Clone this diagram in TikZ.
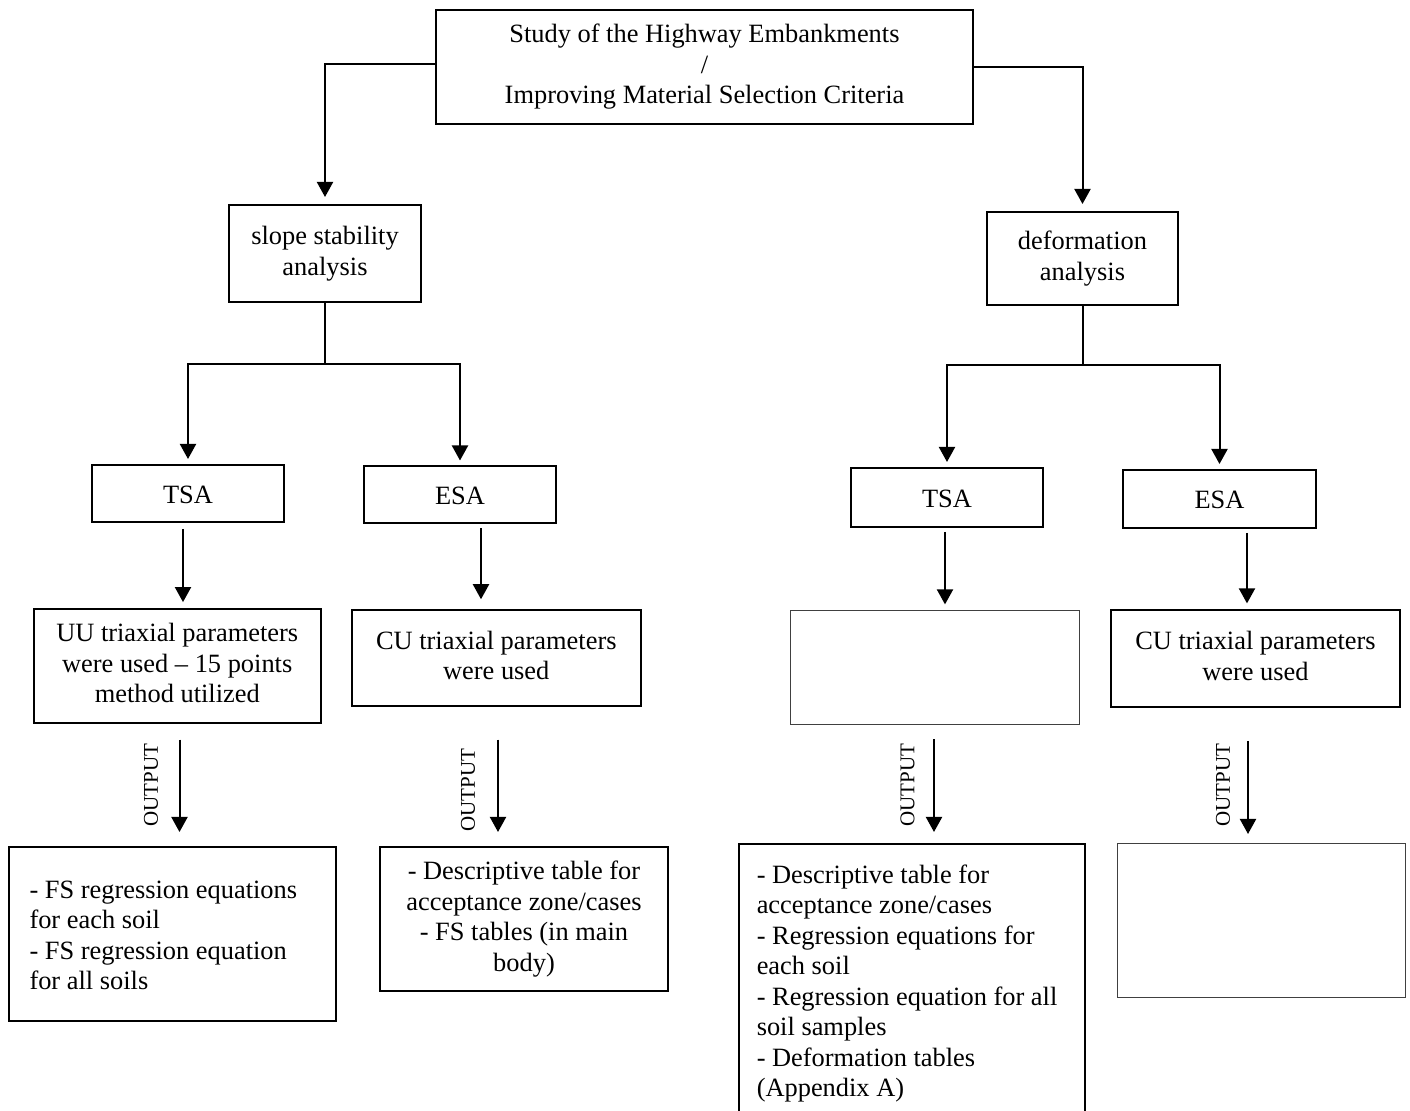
\documentclass[tikz,border=0pt]{standalone}
\usepackage{fontspec}
\setmainfont{Liberation Serif}
\usetikzlibrary{arrows.meta}
\newcommand\topstrut{\rule{0pt}{12.75pt}}
\newcommand\botstrut{\rule[-2.85pt]{0pt}{0pt}}
\begin{document}
\begin{tikzpicture}[x=0.5pt, y=-0.5pt,
  every node/.style={align=center, font=\fontsize{13.2}{15.25}\selectfont,
    execute at begin node=\topstrut, execute at end node=\botstrut},
  box/.style={draw, line width=1pt, inner sep=0pt},
  thinbox/.style={draw=black!75, line width=0.5pt, inner sep=0pt},
  listbox/.style={box, align=flush left},
  arr/.style={line width=1pt, -{Triangle[length=7.5pt, width=8pt]}},
  outlbl/.style={rotate=90, inner sep=0pt, font=\fontsize{10.5}{12}\selectfont,
    execute at begin node={}, execute at end node={}}]
\useasboundingbox (0,0) rectangle (1410,1111);
\fill[white] (0,0) rectangle (1410,1111);

\node[box, minimum width=268.5pt, minimum height=57pt] at (704.5,67) (study) {Study of the Highway Embankments\\/\\Improving Material Selection Criteria};

\node[box, minimum width=96pt, minimum height=48.5pt] at (325,253.5) (slope) {slope stability\\analysis};
\node[box, minimum width=95.5pt, minimum height=46.5pt] at (1082.5,258.5) (deform) {deformation\\analysis};

\node[box, minimum width=96pt, minimum height=28.5pt] at (188,493.5) (tsaS) {TSA};
\node[box, minimum width=96pt, minimum height=28.5pt] at (460,495) (esaS) {ESA};
\node[box, minimum width=96pt, minimum height=29.5pt] at (947,497.5) (tsaD) {TSA};
\node[box, minimum width=96.5pt, minimum height=29pt] at (1219.5,499) (esaD) {ESA};

\node[box, minimum width=143.75pt, minimum height=57pt] at (177.25,665.7) (uuS) {UU triaxial parameters\\were used -- 15 points\\method utilized};
\node[box, minimum width=144.3pt, minimum height=47.75pt] at (496.3,658) (cuS) {CU triaxial parameters\\were used};
\node[thinbox, minimum width=144.5pt, minimum height=57.25pt] at (935,667.75) (uuD) {};
\node[box, minimum width=144.5pt, minimum height=48.5pt] at (1255.5,658.5) (cuD) {CU triaxial parameters\\were used};

\node[listbox, text width=143pt, minimum width=163.5pt, minimum height=87pt] at (172.5,934) (resTS) {- FS regression equations\\for each soil\\- FS regression equation\\for all soils};
\node[box, minimum width=144pt, minimum height=72pt] at (524,919) (resES) {- Descriptive table for\\acceptance zone/cases\\- FS tables (in main\\body)};
\node[listbox, text width=155pt, minimum width=173.25pt, minimum height=136pt] at (911.75,980) (resTD) {- Descriptive table for\\acceptance zone/cases\\- Regression equations for\\each soil\\- Regression equation for all\\soil samples\\- Deformation tables\\(Appendix A)};
\node[thinbox, minimum width=144.3pt, minimum height=77.25pt] at (1261.3,920.75) (resED) {};

% top level
\draw[arr, shorten >=3.5pt] ([yshift=1.5pt]study.west) -| (slope.north);
\draw[arr, shorten >=3.5pt] (study.east) -| (deform.north);

% split into TSA / ESA
\coordinate (splitS) at (325,364);
\coordinate (splitD) at (1082.5,365);
\draw[line width=1pt] (slope.south) -- (splitS);
\draw[arr, shorten >=2.5pt] (splitS) -| (tsaS.north);
\draw[arr, shorten >=2.5pt] (splitS) -| (esaS.north);
\draw[line width=1pt] (deform.south) -- (splitD);
\draw[arr, shorten >=2.5pt] (splitD) -| (tsaD.north);
\draw[arr, shorten >=2.5pt] (splitD) -| (esaD.north);

\draw[arr, shorten <=3pt, shorten >=2.8pt] (183,0 |- tsaS.south) -- (183,0 |- uuS.north);
\draw[arr, shorten <=2pt, shorten >=5pt] (481,0 |- esaS.south) -- (481,0 |- cuS.north);
\draw[arr, shorten <=2pt, shorten >=2.8pt] (945,0 |- tsaD.south) -- (945,0 |- uuD.north);
\draw[arr, shorten <=2pt, shorten >=2.8pt] (1247,0 |- esaD.south) -- (1247,0 |- cuD.north);

% output arrows
\draw[arr, shorten <=8pt, shorten >=7pt] (179.5,0 |- uuS.south) -- (179.5,0 |- resTS.north);
\draw[arr, shorten <=16.5pt, shorten >=7pt] (498,0 |- cuS.south) -- (498,0 |- resES.north);
\draw[arr, shorten <=7pt, shorten >=5.5pt] (934,0 |- uuD.south) -- (934,0 |- resTD.north);
\draw[arr, shorten <=16.5pt, shorten >=4.5pt] (1248,0 |- cuD.south) -- (1248,0 |- resED.north);

\node[outlbl] at (148,785) (outTS) {OUTPUT};
\node[outlbl] at (465,790) (outES) {OUTPUT};
\node[outlbl] at (904.5,785) (outTD) {OUTPUT};
\node[outlbl] at (1220,785) (outED) {OUTPUT};
\end{tikzpicture}
\end{document}
